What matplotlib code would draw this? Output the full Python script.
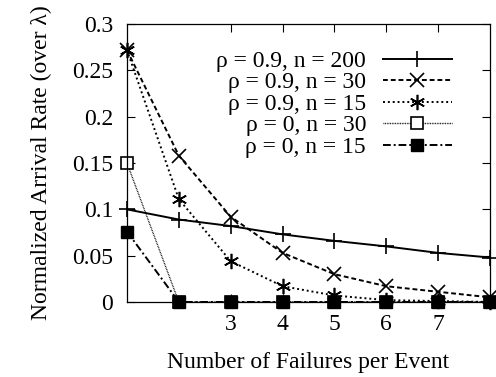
import matplotlib
matplotlib.use("Agg")
import matplotlib.pyplot as plt
import numpy as np

# failures per event
failures = [1, 2, 3, 4, 5, 6, 7, 8]

# normalized arrival rates
rho09_n200 = [0.100, 0.089, 0.082, 0.073, 0.066, 0.060, 0.053, 0.048]
rho09_n30 = [0.272, 0.158, 0.092, 0.053, 0.030, 0.017, 0.011, 0.005]
rho09_n15 = [0.272, 0.111, 0.044, 0.017, 0.007, 0.002, 0.001, 0.000]
rho0_n30 = [0.150, 0.0, 0.0, 0.0, 0.0, 0.0, 0.0, 0.0]
rho0_n15 = [0.076, 0.0, 0.0, 0.0, 0.0, 0.0, 0.0, 0.0]

labels = ["ρ = 0.9, n = 200", "ρ = 0.9, n = 30", "ρ = 0.9, n = 15",
          "ρ = 0, n = 30", "ρ = 0, n = 15"]

plt.rcParams['font.family'] = ['Liberation Serif', 'DejaVu Serif']
plt.rcParams['font.size'] = 17

fig = plt.figure(figsize=(4.96, 3.77), dpi=100)
ax = fig.add_axes([0.256, 0.199, 0.732, 0.737])

common = dict(color='black', clip_on=False)
ax.plot(failures, rho09_n200, linestyle='-', linewidth=1.4, marker='+',
        markersize=11, markeredgewidth=1.2, label=labels[0], **common)
ax.plot(failures, rho09_n30, linestyle=(0, (2.5, 1.5)), linewidth=1.4, marker='x',
        markersize=10, markeredgewidth=1.2, label=labels[1], **common)
ax.plot(failures, rho09_n15, linestyle=(0, (1, 1.5)), linewidth=1.4, marker=(6, 2, 0),
        markersize=11, markeredgewidth=1.2, label=labels[2], **common)
ax.plot(failures, rho0_n30, linestyle=(0, (0.6, 0.6)), linewidth=1.0, marker='s',
        markersize=9, markeredgewidth=1.2, markerfacecolor='white', label=labels[3], **common)
ax.plot(failures, rho0_n15, linestyle=(0, (4, 1.5, 1, 1.5)), linewidth=1.4, marker='s',
        markersize=9, label=labels[4], **common)

ax.set_xlim(1, 8)
ax.set_ylim(0, 0.3)
ax.set_xticks([3, 4, 5, 6, 7])
ax.set_yticks([0, 0.05, 0.1, 0.15, 0.2, 0.25, 0.3])
ax.set_yticklabels(["0", "0.05", "0.1", "0.15", "0.2", "0.25", "0.3"])
ax.tick_params(direction='in', top=True, right=True, length=6, width=0.8, pad=10)
ax.tick_params(axis='x', pad=9)
for s in ax.spines.values():
    s.set_linewidth(0.9)

ax.set_xlabel("Number of Failures per Event", labelpad=12)
ax.set_ylabel("Normalized Arrival Rate (over λ)", labelpad=14)

ax.legend(loc='upper right', frameon=False, markerfirst=False, handlelength=2.95,
          labelspacing=0.0, handletextpad=0.7, borderaxespad=0.0,
          bbox_to_anchor=(0.922, 0.94))

fig.savefig("out.png", dpi=100)
